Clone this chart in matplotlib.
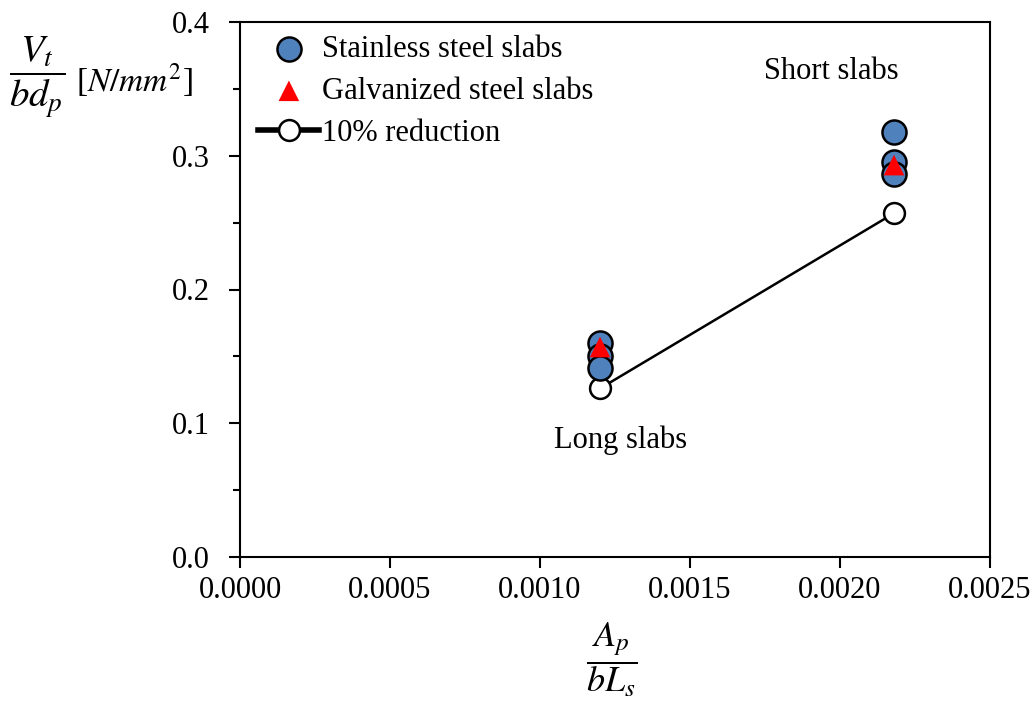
import numpy as np
import matplotlib
matplotlib.use("Agg")
import matplotlib.pyplot as plt
from matplotlib.ticker import MultipleLocator

plt.rcParams['font.family'] = ['Liberation Serif', 'DejaVu Serif']
plt.rcParams['mathtext.fontset'] = 'stix'

# data
x_long = 0.0012
x_short = 0.00218
stainless_x = [x_long, x_long, x_long, x_short, x_short, x_short]
stainless_y = [0.160, 0.150, 0.141, 0.318, 0.295, 0.286]
galvanized_x = [x_long, x_short]
galvanized_y = [0.157, 0.293]
reduction_x = [x_long, x_short]
reduction_y = [0.126, 0.257]

fig = plt.figure(figsize=(10.35, 7.08), dpi=100)
ax = fig.add_axes([240/1035, 1-557/708, 750/1035, 535/708])

ax.plot(reduction_x, reduction_y, '-o', color='black', lw=1.8, ms=15,
        mfc='white', mec='black', mew=1.8, label='10% reduction', zorder=2)
ax.scatter(stainless_x, stainless_y, s=300, c='#4F81BD', edgecolors='black',
           linewidths=1.8, label='Stainless steel slabs', zorder=3)
ax.scatter(galvanized_x, galvanized_y, s=220, marker='^', c='red',
           edgecolors='none', label='Galvanized steel slabs', zorder=4)

ax.set_xlim(0, 0.0025)
ax.set_ylim(0, 0.4)
ax.xaxis.set_major_locator(MultipleLocator(0.0005))
ax.yaxis.set_major_locator(MultipleLocator(0.1))
ax.yaxis.set_minor_locator(MultipleLocator(0.05))
ax.xaxis.set_major_formatter(lambda v, p: f'{v:.4f}')
ax.yaxis.set_major_formatter(lambda v, p: f'{v:.1f}')
ax.tick_params(axis='both', which='major', direction='out', length=8,
               width=1.5, labelsize=22)
ax.tick_params(axis='y', which='major', pad=14)
ax.tick_params(axis='x', which='major', pad=6)
ax.tick_params(axis='y', which='minor', direction='out', length=5, width=1.5)
for sp in ax.spines.values():
    sp.set_linewidth(1.5)

ax.text(0.00197, 0.363, 'Short slabs', fontsize=22, ha='center', va='center')
ax.text(0.00127, 0.087, 'Long slabs', fontsize=22, ha='center', va='center')

h, l = ax.get_legend_handles_labels()
order = [1, 2, 0]
leg = ax.legend([h[i] for i in order], [l[i] for i in order], loc='upper left',
                bbox_to_anchor=(0.0, 1.01), frameon=False, fontsize=22,
                handlelength=2.0, handletextpad=0.1, labelspacing=0.42,
                borderaxespad=0.2)
leg.legend_handles[2].set_linewidth(4)

fig.text(37/1035, 1-77/708, r'$\dfrac{V_t}{bd_p}$', fontsize=28,
         va='center', ha='center')
fig.text(76/1035, 1-80/708, r'[$N/mm^2$]', fontsize=24,
         va='center', ha='left')
fig.text(612/1035, 1-660/708, r'$\dfrac{A_p}{bL_s}$', fontsize=26,
         va='center', ha='center')

fig.savefig('out.png', dpi=100)
